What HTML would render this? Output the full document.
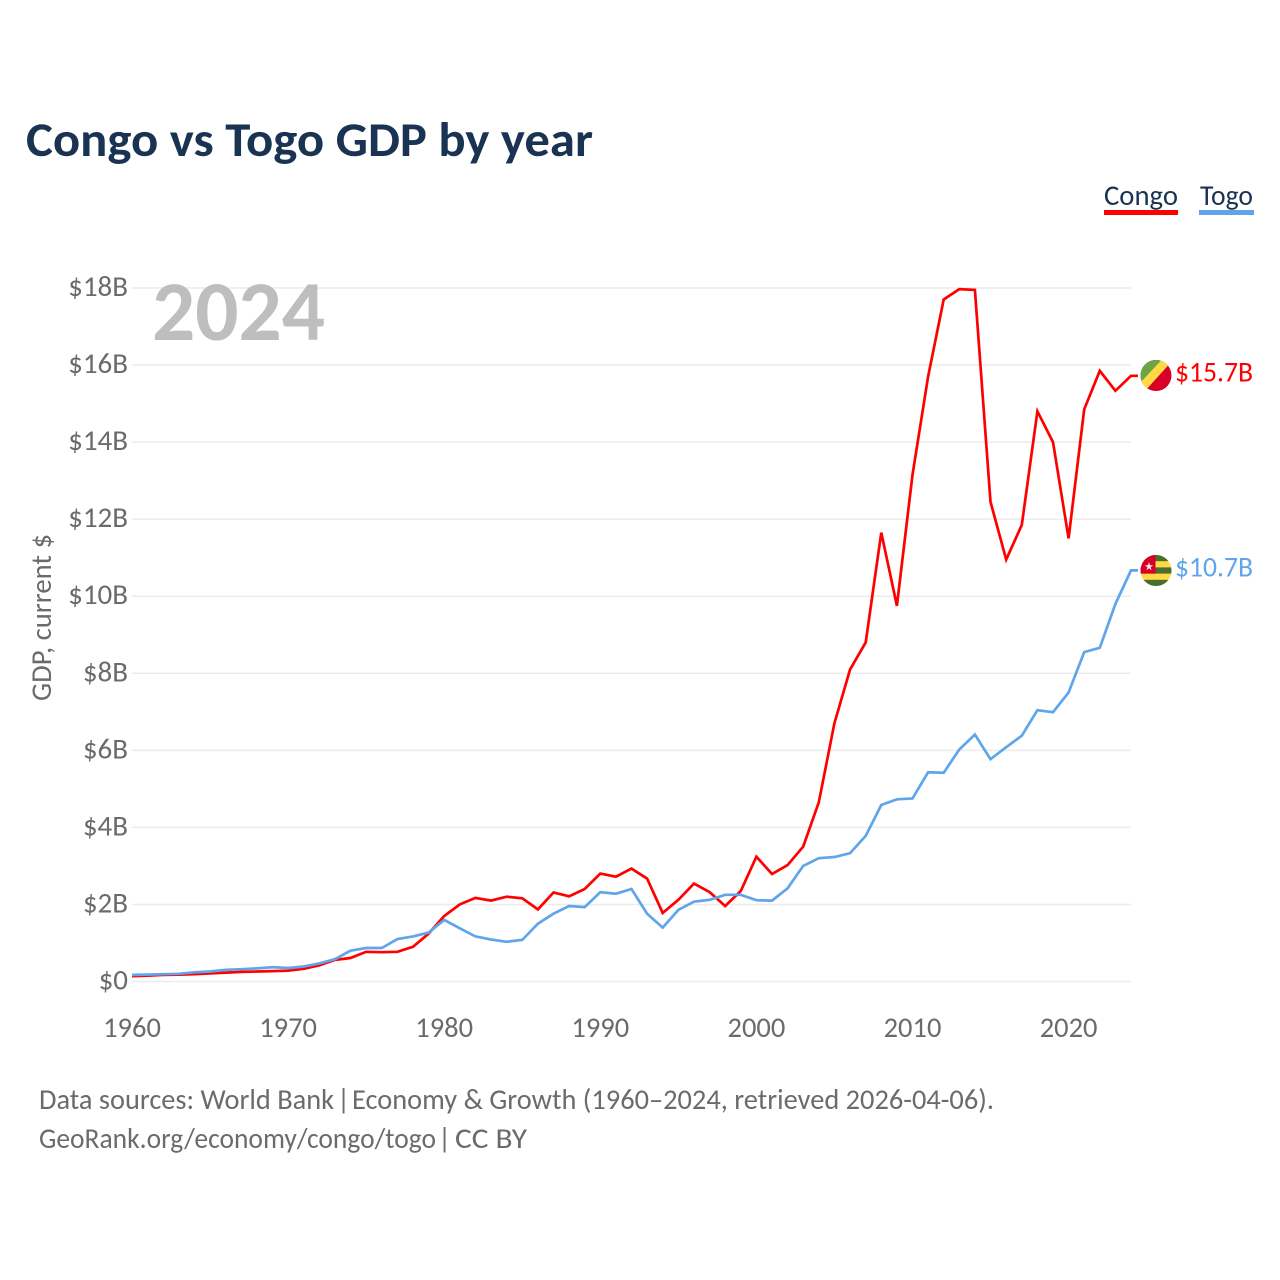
<!DOCTYPE html>
<html lang="en">
<head>
<meta charset="utf-8">
<title>Congo vs Togo GDP by year</title>
<style>
html,body{margin:0;padding:0;background:#fff}
svg{display:block;font-family:"Carlito","Lato","Liberation Sans",sans-serif}
</style>
</head>
<body>
<svg id="chart" xmlns="http://www.w3.org/2000/svg" width="1280" height="1280" viewBox="0 0 1280 1280">
  <rect x="0" y="0" width="1280" height="1280" fill="#fff"/>
  <defs>
    <clipPath id="clip-congo"><circle cx="1156" cy="375.5" r="15.5"/></clipPath>
    <clipPath id="clip-togo"><circle cx="1156" cy="570.5" r="15.5"/></clipPath>
  </defs>
  <text x="26" y="156" font-size="49" font-weight="700" fill="#1a3352" textLength="567" lengthAdjust="spacingAndGlyphs">Congo vs Togo GDP by year</text>

  <g>
    <text x="1104" y="205" font-size="28.5" fill="#1a3352" textLength="74" lengthAdjust="spacingAndGlyphs">Congo</text>
    <rect x="1104" y="210" width="74" height="5" fill="#ff0000"/>
  </g>
  <g>
    <text x="1200" y="205" font-size="28.5" fill="#1a3352" textLength="53" lengthAdjust="spacingAndGlyphs">Togo</text>
    <rect x="1199" y="210" width="55" height="5" fill="#60a5ec"/>
  </g>

  <g id="grid"></g>
  <g id="ylabels"></g>
  <g id="xlabels"></g>

  <text x="152" y="340" font-size="85" font-weight="700" fill="#bebebe" textLength="173" lengthAdjust="spacingAndGlyphs">2024</text>
  <text transform="translate(51,701) rotate(-90)" x="0" y="0" font-size="28.5" fill="#6b6b6b" textLength="167" lengthAdjust="spacingAndGlyphs">GDP, current $</text>

  <g id="series"></g>

  <g clip-path="url(#clip-congo)">
    <rect x="1140" y="359" width="32" height="33" fill="#d80027"/>
    <polygon points="1140,359 1165,359 1140,386" fill="#6da544"/>
    <polygon points="1162.5,359 1174,359 1144,392 1140,392 1140,383" fill="#ffda44"/>
  </g>
  <text x="1175" y="381.5" font-size="28.5" fill="#ff0000" textLength="78" lengthAdjust="spacingAndGlyphs">$15.7B</text>

  <g clip-path="url(#clip-togo)">
    <rect x="1140" y="555" width="32" height="32" fill="#ffda44"/>
    <rect x="1140" y="555" width="32" height="6.2" fill="#496e2d"/>
    <rect x="1140" y="567.4" width="32" height="6.2" fill="#496e2d"/>
    <rect x="1140" y="579.8" width="32" height="6.6" fill="#496e2d"/>
    <rect x="1140" y="555" width="15.5" height="18.6" fill="#d80027"/>
    <polygon points="1149,562 1150,565.2 1153.2,565.2 1150.6,567.1 1151.6,570.2 1149,568.3 1146.4,570.2 1147.4,567.1 1144.8,565.2 1148,565.2" fill="#f0f0f0"/>
  </g>
  <text x="1175" y="576.5" font-size="28.5" fill="#60a5ec" textLength="78" lengthAdjust="spacingAndGlyphs">$10.7B</text>

  <g font-size="28.5" fill="#6b6b6b">
    <text x="39" y="1109" textLength="295" lengthAdjust="spacingAndGlyphs">Data sources: World Bank</text>
    <text x="337" y="1109">|</text>
    <text x="352" y="1109" textLength="642" lengthAdjust="spacingAndGlyphs">Economy &amp; Growth (1960–2024, retrieved 2026-04-06).</text>
  </g>
  <g font-size="28.5" fill="#6b6b6b">
    <text x="39" y="1148" textLength="397" lengthAdjust="spacingAndGlyphs">GeoRank.org/economy/congo/togo</text>
    <text x="438" y="1148">|</text>
    <text x="455" y="1148" textLength="72" lengthAdjust="spacingAndGlyphs">CC BY</text>
  </g>
</svg>
<script>
const years = [1960,1961,1962,1963,1964,1965,1966,1967,1968,1969,1970,1971,1972,1973,1974,1975,1976,1977,1978,1979,1980,1981,1982,1983,1984,1985,1986,1987,1988,1989,1990,1991,1992,1993,1994,1995,1996,1997,1998,1999,2000,2001,2002,2003,2004,2005,2006,2007,2008,2009,2010,2011,2012,2013,2014,2015,2016,2017,2018,2019,2020,2021,2022,2023,2024];
const congoGdp = [0.14,0.15,0.17,0.18,0.19,0.21,0.23,0.25,0.26,0.27,0.28,0.33,0.42,0.56,0.61,0.77,0.76,0.77,0.90,1.24,1.70,2.00,2.17,2.10,2.20,2.16,1.87,2.31,2.21,2.40,2.80,2.72,2.93,2.67,1.78,2.12,2.54,2.32,1.96,2.35,3.24,2.79,3.02,3.50,4.65,6.70,8.10,8.80,11.65,9.75,13.15,15.70,17.70,17.97,17.95,12.45,10.95,11.85,14.80,14.00,11.50,14.85,15.85,15.33,15.72];
const togoGdp = [0.17,0.18,0.19,0.20,0.24,0.26,0.30,0.32,0.34,0.37,0.35,0.39,0.47,0.58,0.80,0.87,0.87,1.10,1.17,1.27,1.60,1.38,1.17,1.09,1.03,1.08,1.50,1.76,1.96,1.93,2.32,2.28,2.40,1.76,1.40,1.86,2.07,2.12,2.25,2.25,2.11,2.10,2.42,3.00,3.20,3.23,3.33,3.78,4.58,4.73,4.75,5.43,5.42,6.02,6.41,5.77,6.08,6.38,7.04,6.99,7.50,8.55,8.66,9.80,10.67];
const yTickValues = [0,2,4,6,8,10,12,14,16,18];
const yTickLabels = ['$0','$2B','$4B','$6B','$8B','$10B','$12B','$14B','$16B','$18B'];
const xTickYears = [1960,1970,1980,1990,2000,2010,2020];

const NS = 'http://www.w3.org/2000/svg';
const xScale = function (year) { return 132 + (year - 1960) * 15.61; };
const yScale = function (value) { return 981.5 - value * 38.53; };

const grid = document.getElementById('grid');
const yLabels = document.getElementById('ylabels');
const xLabels = document.getElementById('xlabels');
const seriesGroup = document.getElementById('series');

yTickValues.forEach(function (value, i) {
  const line = document.createElementNS(NS, 'line');
  
  
  line.setAttribute('x1', 132);
  line.setAttribute('x2', xScale(2024));
  line.setAttribute('y1', yScale(value));
  line.setAttribute('y2', yScale(value));
  line.setAttribute('stroke', '#ececec');
  line.setAttribute('stroke-width', 1.5);
  grid.appendChild(line);

  const label = document.createElementNS(NS, 'text');
  
  
  label.setAttribute('x', 128);
  label.setAttribute('y', yScale(value) + 8);
  label.setAttribute('text-anchor', 'end');
  label.setAttribute('font-size', '29');
  label.setAttribute('fill', '#6b6b6b');
  label.textContent = yTickLabels[i];
  yLabels.appendChild(label);
});

xTickYears.forEach(function (year) {
  const label = document.createElementNS(NS, 'text');
  
  
  label.setAttribute('x', xScale(year));
  label.setAttribute('y', 1037);
  label.setAttribute('text-anchor', 'middle');
  label.setAttribute('font-size', '28.5');
  label.setAttribute('fill', '#6b6b6b');
  label.textContent = String(year);
  xLabels.appendChild(label);
});

function drawSeries(values, color, seriesName) {
  const pts = values.map(function (v, i) {
    return xScale(years[i]).toFixed(1) + ',' + yScale(v).toFixed(1);
  });
  const last = values[values.length - 1];
  pts.push((xScale(years[years.length - 1]) + 7).toFixed(1) + ',' + yScale(last).toFixed(1));
  const line = document.createElementNS(NS, 'polyline');
  
  
  line.setAttribute('points', pts.join(' '));
  line.setAttribute('fill', 'none');
  line.setAttribute('stroke', color);
  line.setAttribute('stroke-width', 2.7);
  line.setAttribute('stroke-linejoin', 'miter');
  seriesGroup.appendChild(line);
}
drawSeries(congoGdp, '#ff0000', 'congo-gdp-line');
drawSeries(togoGdp, '#60a5ec', 'togo-gdp-line');
</script>
</body>
</html>
